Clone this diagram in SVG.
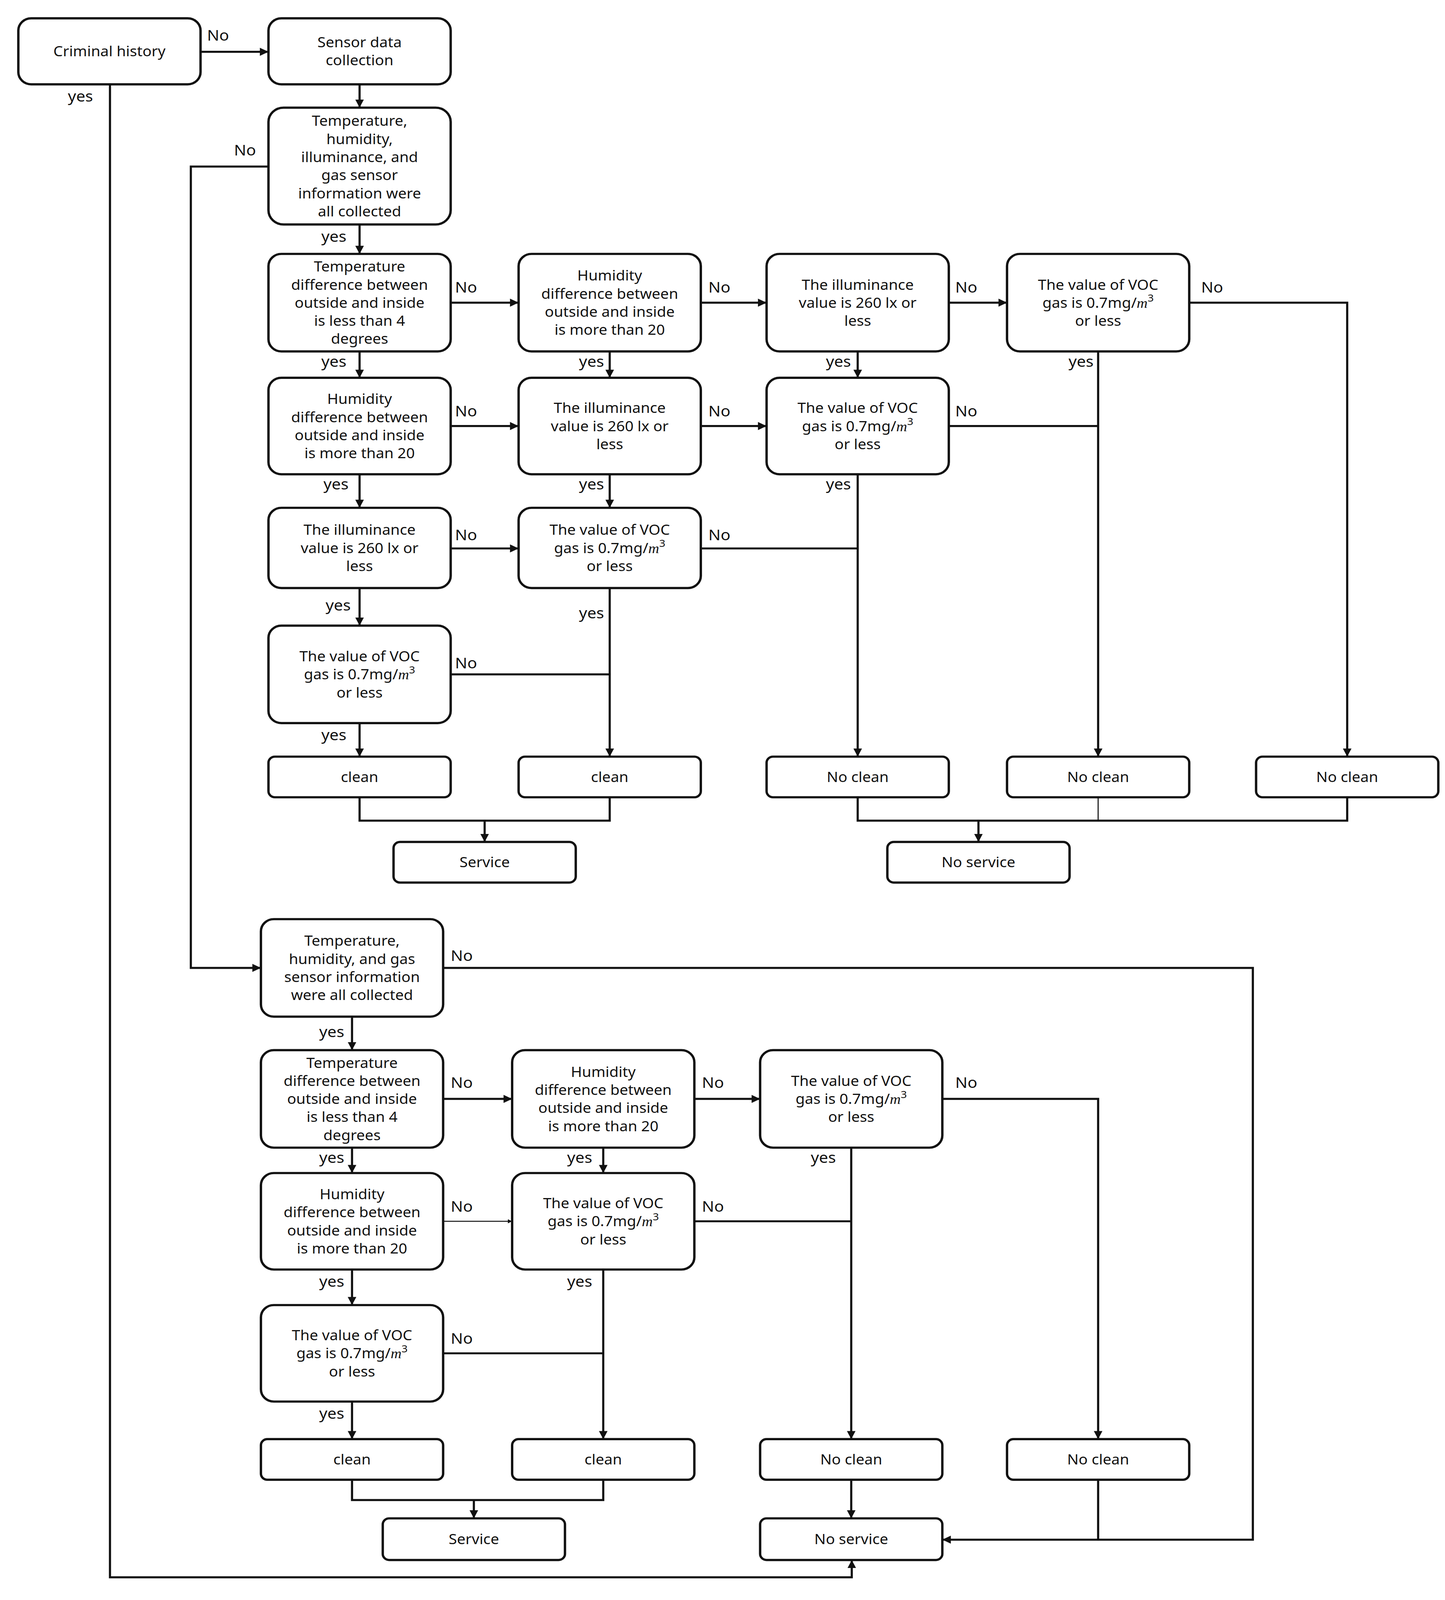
<svg xmlns="http://www.w3.org/2000/svg" width="3699" height="4315" viewBox="0 0 3699 4315">
<style>
rect.n{fill:#fff;stroke:#111;stroke-width:2.2}
text{font-family:"Noto Sans","Open Sans",sans-serif;font-size:14px;fill:#111;text-anchor:middle}
text.l{text-anchor:start;font-size:15px}
.c path{fill:none;stroke:#111;stroke-width:2}
.m{font-family:"Liberation Serif",serif;font-style:italic}
</style>
<defs><marker id="a" viewBox="0 0 10 10" refX="10" refY="5" markerWidth="4" markerHeight="4" orient="auto"><path d="M0,0L10,5L0,10z" fill="#111"/></marker></defs>
<rect width="3699" height="4315" fill="#fff"/>
<g transform="matrix(2.76,0,0,2.6,0,0)">
<g class="c">
<path d="M186,51H249" marker-end="url(#a)"/>
<path d="M102,83V1553H790V1536" marker-end="url(#a)"/>
<path d="M333.5,83V106" marker-end="url(#a)"/>
<path d="M249,164H177V953H242" marker-end="url(#a)"/>
<path d="M333.5,221V250" marker-end="url(#a)"/>
<path d="M418,298H481" marker-end="url(#a)"/>
<path d="M650,298H711" marker-end="url(#a)"/>
<path d="M880,298H934" marker-end="url(#a)"/>
<path d="M1103,298H1249.5V745" marker-end="url(#a)"/>
<path d="M333.5,346V372" marker-end="url(#a)"/>
<path d="M565.5,346V372" marker-end="url(#a)"/>
<path d="M795.5,346V372" marker-end="url(#a)"/>
<path d="M1018.5,346V745" marker-end="url(#a)"/>
<path d="M418,419.5H481" marker-end="url(#a)"/>
<path d="M650,419.5H711" marker-end="url(#a)"/>
<path d="M880,419.5H1018.5"/>
<path d="M333.5,467V500" marker-end="url(#a)"/>
<path d="M565.5,467V500" marker-end="url(#a)"/>
<path d="M795.5,467V745" marker-end="url(#a)"/>
<path d="M418,540H481" marker-end="url(#a)"/>
<path d="M650,540H795.5"/>
<path d="M333.5,579V616" marker-end="url(#a)"/>
<path d="M565.5,579V745" marker-end="url(#a)"/>
<path d="M418,664H565.5"/>
<path d="M333.5,712V745" marker-end="url(#a)"/>
<path d="M333.5,785V808H565.5V785"/>
<path d="M449.5,808V829" marker-end="url(#a)"/>
<path d="M795.5,785V808H1249.5V785"/>
<path d="M1018.5,785V808" style="stroke-width:1"/>
<path d="M907.5,808V829" marker-end="url(#a)"/>
<path d="M411,953H1162V1516H874" marker-end="url(#a)"/>
<path d="M326.5,1001V1034" marker-end="url(#a)"/>
<path d="M411,1082H475" marker-end="url(#a)"/>
<path d="M644,1082H705" marker-end="url(#a)"/>
<path d="M874,1082H1018.5V1417" marker-end="url(#a)"/>
<path d="M326.5,1130V1155" marker-end="url(#a)"/>
<path d="M559.5,1130V1155" marker-end="url(#a)"/>
<path d="M789.5,1130V1417" marker-end="url(#a)"/>
<path d="M411,1202.5H475" style="stroke-width:1" marker-end="url(#a)"/>
<path d="M644,1202.5H789.5"/>
<path d="M326.5,1250V1285" marker-end="url(#a)"/>
<path d="M559.5,1250V1417" marker-end="url(#a)"/>
<path d="M411,1332.5H559.5"/>
<path d="M326.5,1380V1417" marker-end="url(#a)"/>
<path d="M326.5,1457V1477H559.5V1457"/>
<path d="M439.5,1477V1495" marker-end="url(#a)"/>
<path d="M789.5,1457V1495" marker-end="url(#a)"/>
<path d="M1018.5,1457V1516"/>
</g>
<g id="labels">
<text class="l" x="192" y="40">No</text>
<text class="l" x="63" y="100">yes</text>
<text class="l" x="217" y="153">No</text>
<text class="l" x="298" y="238">yes</text>
<text class="l" x="422" y="288">No</text>
<text class="l" x="657" y="288">No</text>
<text class="l" x="886" y="288">No</text>
<text class="l" x="1114" y="288">No</text>
<text class="l" x="298" y="361">yes</text>
<text class="l" x="537" y="361">yes</text>
<text class="l" x="766" y="361">yes</text>
<text class="l" x="991" y="361">yes</text>
<text class="l" x="422" y="410">No</text>
<text class="l" x="657" y="410">No</text>
<text class="l" x="886" y="410">No</text>
<text class="l" x="300" y="482">yes</text>
<text class="l" x="537" y="482">yes</text>
<text class="l" x="766" y="482">yes</text>
<text class="l" x="422" y="532">No</text>
<text class="l" x="657" y="532">No</text>
<text class="l" x="302" y="601">yes</text>
<text class="l" x="537" y="609">yes</text>
<text class="l" x="422" y="658">No</text>
<text class="l" x="298" y="729">yes</text>
<text class="l" x="418" y="946">No</text>
<text class="l" x="296" y="1021">yes</text>
<text class="l" x="418" y="1071">No</text>
<text class="l" x="651" y="1071">No</text>
<text class="l" x="886" y="1071">No</text>
<text class="l" x="296" y="1145">yes</text>
<text class="l" x="526" y="1145">yes</text>
<text class="l" x="752" y="1145">yes</text>
<text class="l" x="418" y="1193">No</text>
<text class="l" x="651" y="1193">No</text>
<text class="l" x="296" y="1267">yes</text>
<text class="l" x="526" y="1267">yes</text>
<text class="l" x="418" y="1323">No</text>
<text class="l" x="296" y="1397">yes</text>
</g>
<g id="crim"><rect class="n" x="17" y="18" width="169" height="65" rx="12"/><text x="101.5" y="55.5">Criminal history</text></g>
<g id="sensor"><rect class="n" x="249" y="18" width="169" height="65" rx="12"/><text x="333.5" y="46.6">Sensor data<tspan x="333.5" dy="17.8">collection</tspan></text></g>
<g id="t1"><rect class="n" x="249" y="106" width="169" height="115" rx="14"/><text x="333.5" y="124">Temperature,<tspan x="333.5" dy="17.8">humidity,</tspan><tspan x="333.5" dy="17.8">illuminance, and</tspan><tspan x="333.5" dy="17.8">gas sensor</tspan><tspan x="333.5" dy="17.8">information were</tspan><tspan x="333.5" dy="17.8">all collected</tspan></text></g>
<g id="r1a"><rect class="n" x="249" y="250" width="169" height="96" rx="12"/><text x="333.5" y="267.4">Temperature<tspan x="333.5" dy="17.8">difference between</tspan><tspan x="333.5" dy="17.8">outside and inside</tspan><tspan x="333.5" dy="17.8">is less than 4</tspan><tspan x="333.5" dy="17.8">degrees</tspan></text></g>
<g id="r1b"><rect class="n" x="481" y="250" width="169" height="96" rx="12"/><text x="565.5" y="276.3">Humidity<tspan x="565.5" dy="17.8">difference between</tspan><tspan x="565.5" dy="17.8">outside and inside</tspan><tspan x="565.5" dy="17.8">is more than 20</tspan></text></g>
<g id="r1c"><rect class="n" x="711" y="250" width="169" height="96" rx="12"/><text x="795.5" y="285.2">The illuminance<tspan x="795.5" dy="17.8">value is 260 lx or</tspan><tspan x="795.5" dy="17.8">less</tspan></text></g>
<g id="r1d"><rect class="n" x="934" y="250" width="169" height="96" rx="12"/><text x="1018.5" y="285.2">The value of VOC<tspan x="1018.5" dy="17.8">gas is 0.7mg/<tspan class="m">m</tspan><tspan font-size="10" dy="-6">3</tspan></tspan><tspan x="1018.5" dy="23.8">or less</tspan></text></g>
<g id="r2a"><rect class="n" x="249" y="372" width="169" height="95" rx="12"/><text x="333.5" y="397.8">Humidity<tspan x="333.5" dy="17.8">difference between</tspan><tspan x="333.5" dy="17.8">outside and inside</tspan><tspan x="333.5" dy="17.8">is more than 20</tspan></text></g>
<g id="r2b"><rect class="n" x="481" y="372" width="169" height="95" rx="12"/><text x="565.5" y="406.7">The illuminance<tspan x="565.5" dy="17.8">value is 260 lx or</tspan><tspan x="565.5" dy="17.8">less</tspan></text></g>
<g id="r2c"><rect class="n" x="711" y="372" width="169" height="95" rx="12"/><text x="795.5" y="406.7">The value of VOC<tspan x="795.5" dy="17.8">gas is 0.7mg/<tspan class="m">m</tspan><tspan font-size="10" dy="-6">3</tspan></tspan><tspan x="795.5" dy="23.8">or less</tspan></text></g>
<g id="r3a"><rect class="n" x="249" y="500" width="169" height="79" rx="12"/><text x="333.5" y="526.7">The illuminance<tspan x="333.5" dy="17.8">value is 260 lx or</tspan><tspan x="333.5" dy="17.8">less</tspan></text></g>
<g id="r3b"><rect class="n" x="481" y="500" width="169" height="79" rx="12"/><text x="565.5" y="526.7">The value of VOC<tspan x="565.5" dy="17.8">gas is 0.7mg/<tspan class="m">m</tspan><tspan font-size="10" dy="-6">3</tspan></tspan><tspan x="565.5" dy="23.8">or less</tspan></text></g>
<g id="r4a"><rect class="n" x="249" y="616" width="169" height="96" rx="12"/><text x="333.5" y="651.2">The value of VOC<tspan x="333.5" dy="17.8">gas is 0.7mg/<tspan class="m">m</tspan><tspan font-size="10" dy="-6">3</tspan></tspan><tspan x="333.5" dy="23.8">or less</tspan></text></g>
<g id="ca"><rect class="n" x="249" y="745" width="169" height="40" rx="6"/><text x="333.5" y="770">clean</text></g>
<g id="cb"><rect class="n" x="481" y="745" width="169" height="40" rx="6"/><text x="565.5" y="770">clean</text></g>
<g id="cc"><rect class="n" x="711" y="745" width="169" height="40" rx="6"/><text x="795.5" y="770">No clean</text></g>
<g id="cd"><rect class="n" x="934" y="745" width="169" height="40" rx="6"/><text x="1018.5" y="770">No clean</text></g>
<g id="ce"><rect class="n" x="1165" y="745" width="169" height="40" rx="6"/><text x="1249.5" y="770">No clean</text></g>
<g id="svc1"><rect class="n" x="365" y="829" width="169" height="40" rx="6"/><text x="449.5" y="854">Service</text></g>
<g id="nsvc1"><rect class="n" x="823" y="829" width="169" height="40" rx="6"/><text x="907.5" y="854">No service</text></g>
<g id="t2"><rect class="n" x="242" y="905" width="169" height="96" rx="12"/><text x="326.5" y="931.3">Temperature,<tspan x="326.5" dy="17.8">humidity, and gas</tspan><tspan x="326.5" dy="17.8">sensor information</tspan><tspan x="326.5" dy="17.8">were all collected</tspan></text></g>
<g id="s1a"><rect class="n" x="242" y="1034" width="169" height="96" rx="12"/><text x="326.5" y="1051.4">Temperature<tspan x="326.5" dy="17.8">difference between</tspan><tspan x="326.5" dy="17.8">outside and inside</tspan><tspan x="326.5" dy="17.8">is less than 4</tspan><tspan x="326.5" dy="17.8">degrees</tspan></text></g>
<g id="s1b"><rect class="n" x="475" y="1034" width="169" height="96" rx="12"/><text x="559.5" y="1060.3">Humidity<tspan x="559.5" dy="17.8">difference between</tspan><tspan x="559.5" dy="17.8">outside and inside</tspan><tspan x="559.5" dy="17.8">is more than 20</tspan></text></g>
<g id="s1c"><rect class="n" x="705" y="1034" width="169" height="96" rx="12"/><text x="789.5" y="1069.2">The value of VOC<tspan x="789.5" dy="17.8">gas is 0.7mg/<tspan class="m">m</tspan><tspan font-size="10" dy="-6">3</tspan></tspan><tspan x="789.5" dy="23.8">or less</tspan></text></g>
<g id="s2a"><rect class="n" x="242" y="1155" width="169" height="95" rx="12"/><text x="326.5" y="1180.8">Humidity<tspan x="326.5" dy="17.8">difference between</tspan><tspan x="326.5" dy="17.8">outside and inside</tspan><tspan x="326.5" dy="17.8">is more than 20</tspan></text></g>
<g id="s2b"><rect class="n" x="475" y="1155" width="169" height="95" rx="12"/><text x="559.5" y="1189.7">The value of VOC<tspan x="559.5" dy="17.8">gas is 0.7mg/<tspan class="m">m</tspan><tspan font-size="10" dy="-6">3</tspan></tspan><tspan x="559.5" dy="23.8">or less</tspan></text></g>
<g id="s3a"><rect class="n" x="242" y="1285" width="169" height="95" rx="12"/><text x="326.5" y="1319.7">The value of VOC<tspan x="326.5" dy="17.8">gas is 0.7mg/<tspan class="m">m</tspan><tspan font-size="10" dy="-6">3</tspan></tspan><tspan x="326.5" dy="23.8">or less</tspan></text></g>
<g id="da"><rect class="n" x="242" y="1417" width="169" height="40" rx="6"/><text x="326.5" y="1442">clean</text></g>
<g id="db"><rect class="n" x="475" y="1417" width="169" height="40" rx="6"/><text x="559.5" y="1442">clean</text></g>
<g id="dc"><rect class="n" x="705" y="1417" width="169" height="40" rx="6"/><text x="789.5" y="1442">No clean</text></g>
<g id="dd"><rect class="n" x="934" y="1417" width="169" height="40" rx="6"/><text x="1018.5" y="1442">No clean</text></g>
<g id="svc2"><rect class="n" x="355" y="1495" width="169" height="41" rx="6"/><text x="439.5" y="1520.5">Service</text></g>
<g id="nsvc2"><rect class="n" x="705" y="1495" width="169" height="41" rx="6"/><text x="789.5" y="1520.5">No service</text></g>
</g>
</svg>
